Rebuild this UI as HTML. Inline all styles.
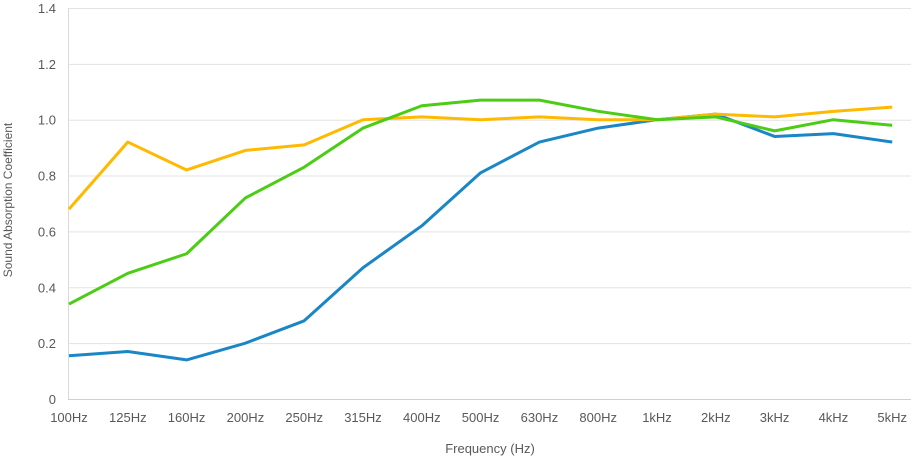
<!DOCTYPE html>
<html><head><style>
body{margin:0;background:#fff;}
svg text{font-family:"Liberation Sans",sans-serif;fill:#595959;}
</style></head><body>
<svg width="912" height="456" xmlns="http://www.w3.org/2000/svg">
<g id="grid" stroke="#e3e3e3" stroke-width="1"></g>
<line x1="68.5" y1="8" x2="68.5" y2="399" stroke="#d9d9d9"/>
<line x1="68" y1="399.5" x2="911" y2="399.5" stroke="#d0d0d0"/>
<g id="yl" font-size="13" text-anchor="end"></g>
<g id="xl" font-size="13" text-anchor="middle"></g>
<g id="series" fill="none" stroke-width="3" stroke-linejoin="round"></g>
<text x="490" y="453" font-size="13" text-anchor="middle">Frequency (Hz)</text>
<text transform="translate(12,200) rotate(-90)" font-size="12" text-anchor="middle">Sound Absorption Coefficient</text>
</svg>
<script>
var ns="http://www.w3.org/2000/svg";
function el(p,t,a,txt){var e=document.createElementNS(ns,t);for(var k in a)e.setAttribute(k,a[k]);if(txt!=null)e.textContent=txt;document.getElementById(p).appendChild(e);}
function Y(v){return 399-v*279.3;}
function X(i){return 69+i*58.8;}
for(var i=0;i<=7;i++){var v=i*0.2,y=Y(v);if(i>0)el("grid","line",{x1:69,x2:911,y1:y+0.5,y2:y+0.5});el("yl","text",{x:56,y:y+5},i==0?"0":v.toFixed(1));}
var lab=["100Hz","125Hz","160Hz","200Hz","250Hz","315Hz","400Hz","500Hz","630Hz","800Hz","1kHz","2kHz","3kHz","4kHz","5kHz"];
lab.forEach(function(l,i){el("xl","text",{x:X(i),y:422},l);});
var S=[["#1a86c6",[0.155,0.17,0.14,0.20,0.28,0.47,0.62,0.81,0.92,0.97,1.00,1.02,0.94,0.95,0.92]],
["#ffb900",[0.68,0.92,0.82,0.89,0.91,1.00,1.01,1.00,1.01,1.00,1.00,1.02,1.01,1.03,1.045]],
["#4ccc14",[0.34,0.45,0.52,0.72,0.83,0.97,1.05,1.07,1.07,1.03,1.00,1.01,0.96,1.00,0.98]]];
S.forEach(function(s){el("series","polyline",{stroke:s[0],points:s[1].map(function(v,i){return X(i)+","+Y(v)}).join(" ")});});
</script>
</body></html>
